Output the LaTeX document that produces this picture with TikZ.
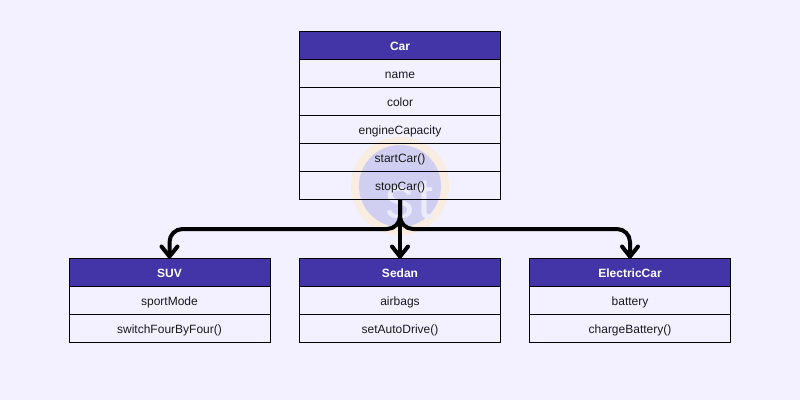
\documentclass[tikz,border=0pt]{standalone}
\usepackage{fontspec}
\setmainfont{Liberation Sans}
\usetikzlibrary{arrows.meta}
\definecolor{pagebg}{HTML}{F3F0FF}
\definecolor{headbg}{HTML}{4335A7}
\definecolor{ringc}{HTML}{F9ECE0}
\definecolor{discc}{HTML}{D0CFF1}
\definecolor{markc}{HTML}{ECEBFB}
\definecolor{inkc}{HTML}{1A1A1A}
\tikzset{
  x=1pt,y=-1pt,
  rowbox/.style={draw=black,line width=1pt,minimum width=201pt,minimum height=28pt,inner sep=0pt,outer sep=0pt,anchor=center,text=inkc,text height=11pt,text depth=2pt,font=\fontsize{12}{14}\selectfont},
  headbox/.style={rowbox,fill=headbg,text=white,font=\fontsize{12}{14}\selectfont\bfseries},
  link/.style={draw=black,line width=4pt,rounded corners=13pt,-{Straight Barb[length=10pt,width=16pt,line width=4pt,round]}}
}
\begin{document}
\begin{tikzpicture}
\useasboundingbox (0,0) rectangle (800,400);
\fill[pagebg] (0,0) rectangle (800,400);
\fill[ringc] (400,186) circle[radius=49];
\fill[discc] (400,186) circle[radius=41];
\node[text=markc,font=\fontsize{58}{60}\selectfont,inner sep=0pt,anchor=base west] (mark) at (385.5,218) {s\kern3pt t};
\node[headbox] (car) at (400,45.5) {Car};
\node[rowbox] (name) at (400,73.5) {name};
\node[rowbox] (color) at (400,101.5) {color};
\node[rowbox] (engine) at (400,129.5) {engineCapacity};
\node[rowbox] (start) at (400,157.5) {startCar()};
\node[rowbox] (stop) at (400,185.5) {stopCar()};
\node[headbox] (suv) at (169.5,272.5) {SUV};
\node[rowbox] (sport) at (169.5,300.5) {sportMode};
\node[rowbox] (switch) at (169.5,328.5) {switchFourByFour()};
\node[headbox] (sedan) at (400,272.5) {Sedan};
\node[rowbox] (airbags) at (400,300.5) {airbags};
\node[rowbox] (auto) at (400,328.5) {setAutoDrive()};
\node[headbox] (electric) at (630,272.5) {ElectricCar};
\node[rowbox] (battery) at (630,300.5) {battery};
\node[rowbox] (charge) at (630,328.5) {chargeBattery()};
\draw[link] (stop.south) -- ++(0,29.5) -| (suv.north);
\draw[link] (stop.south) -- ++(0,29.5) -| (electric.north);
\draw[link] (stop.south) -- (sedan.north);
\end{tikzpicture}
\end{document}
